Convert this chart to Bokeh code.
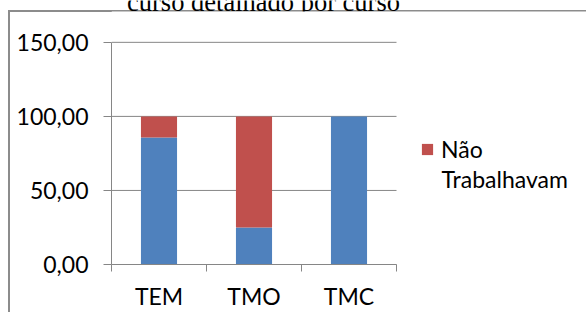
from bokeh.plotting import figure
from bokeh.models import (Range1d, FixedTicker, ColumnDataSource, Legend, LegendItem, Label,
                          BoxAnnotation)
from bokeh.embed import file_html
from bokeh.resources import INLINE

# ---- data ----
categories = ["TEM", "TMO", "TMC"]
trabalhavam = [85.71, 25.0, 100.0]
nao_trabalhavam = [14.29, 75.0, 0.0]
y_ticks = [0, 50, 100, 150]
y_tick_labels = ["0,00", "50,00", "100,00", "150,00"]
title_text = "curso detalhado por curso"
legend_lines = ["Não", "Trabalhavam"]

FONT = "Lato"
GRID = "#868686"

xs = [i + 0.5 for i in range(len(categories))]
src = ColumnDataSource(dict(x=xs, trab=trabalhavam, nao=nao_trabalhavam))

# plot frame: x 111..586 (categories occupy 111..396), y 0..265 (150 sits at 42px)
y_max = y_ticks[-1]
y_top = y_max * 265 / 223
x_end = len(categories) * (586 - 111) / (396 - 111)

p = figure(width=586, height=312, output_backend="svg", toolbar_location=None,
           x_range=Range1d(0, x_end), y_range=Range1d(0, y_top),
           min_border_left=111, min_border_right=0, min_border_top=0,
           min_border_bottom=47)
p.styles = {
    "background-image": "linear-gradient(#8c8c8c, #8c8c8c), linear-gradient(#8c8c8c, #8c8c8c)",
    "background-size": "2px 100%, 100% 2px",
    "background-position": "8px 10px, 8px 10px",
    "background-repeat": "no-repeat",
}
p.outline_line_color = None
p.background_fill_alpha = 0
p.border_fill_alpha = 0

# title, partly hidden behind the chart area (as in the reference)
title = Label(x=152, y=263, x_units="screen", y_units="screen", text=title_text,
              text_font="Liberation Serif", text_font_size="26.5px", text_align="center",
              text_baseline="alphabetic", text_color="black", level="image")
p.add_layout(title)
cover = BoxAnnotation(top=253, top_units="screen", fill_color="white", fill_alpha=1.0,
                      line_color=None, level="image")
p.add_layout(cover)

# horizontal gridlines limited to the category area
p.xgrid.visible = False
p.ygrid.visible = False
p.segment(x0=0, x1=len(categories), y0=y_ticks, y1=y_ticks, line_color=GRID, line_width=1)

rs = p.vbar_stack(["trab", "nao"], x="x", width=0.38, source=src,
                  color=["#4F81BD", "#C0504D"], line_color=None)

# axes
p.yaxis.ticker = FixedTicker(ticks=y_ticks)
p.yaxis.bounds = (0, y_max)
p.yaxis.major_label_overrides = {t: l for t, l in zip(y_ticks, y_tick_labels)}
p.xaxis.ticker = FixedTicker(ticks=xs, minor_ticks=list(range(len(categories) + 1)))
p.xaxis.bounds = (0, len(categories))
p.xaxis.major_label_overrides = {x: c for x, c in zip(xs, categories)}

for ax in (p.xaxis[0], p.yaxis[0]):
    ax.axis_line_color = GRID
    ax.major_label_text_font = FONT
    ax.major_label_text_font_size = "23px"
    ax.major_label_text_color = "black"

p.yaxis.major_tick_line_color = GRID
p.yaxis.major_tick_in = 0
p.yaxis.major_tick_out = 8
p.yaxis.minor_tick_line_color = None
p.yaxis.major_label_standoff = 15

p.xaxis.major_tick_line_color = None
p.xaxis.major_tick_in = 0
p.xaxis.major_tick_out = 7
p.xaxis.minor_tick_line_color = GRID
p.xaxis.minor_tick_in = 0
p.xaxis.minor_tick_out = 7
p.xaxis.major_label_standoff = 10

legend = Legend(items=[LegendItem(label=legend_lines[0], renderers=[rs[1]])],
                location=(309, 101), padding=0, margin=0, spacing=0,
                border_line_color=None, background_fill_alpha=0,
                glyph_width=14, glyph_height=14, label_standoff=7, label_height=28,
                label_text_font=FONT, label_text_font_size="23px",
                label_text_color="black")
p.add_layout(legend, "center")
legend_cont = Label(x=330, y=86, x_units="screen", y_units="screen", text=legend_lines[1],
                    text_font=FONT, text_font_size="23px", text_color="black",
                    text_baseline="alphabetic")
p.add_layout(legend_cont)

open("out.html", "w").write(file_html(p, INLINE))
